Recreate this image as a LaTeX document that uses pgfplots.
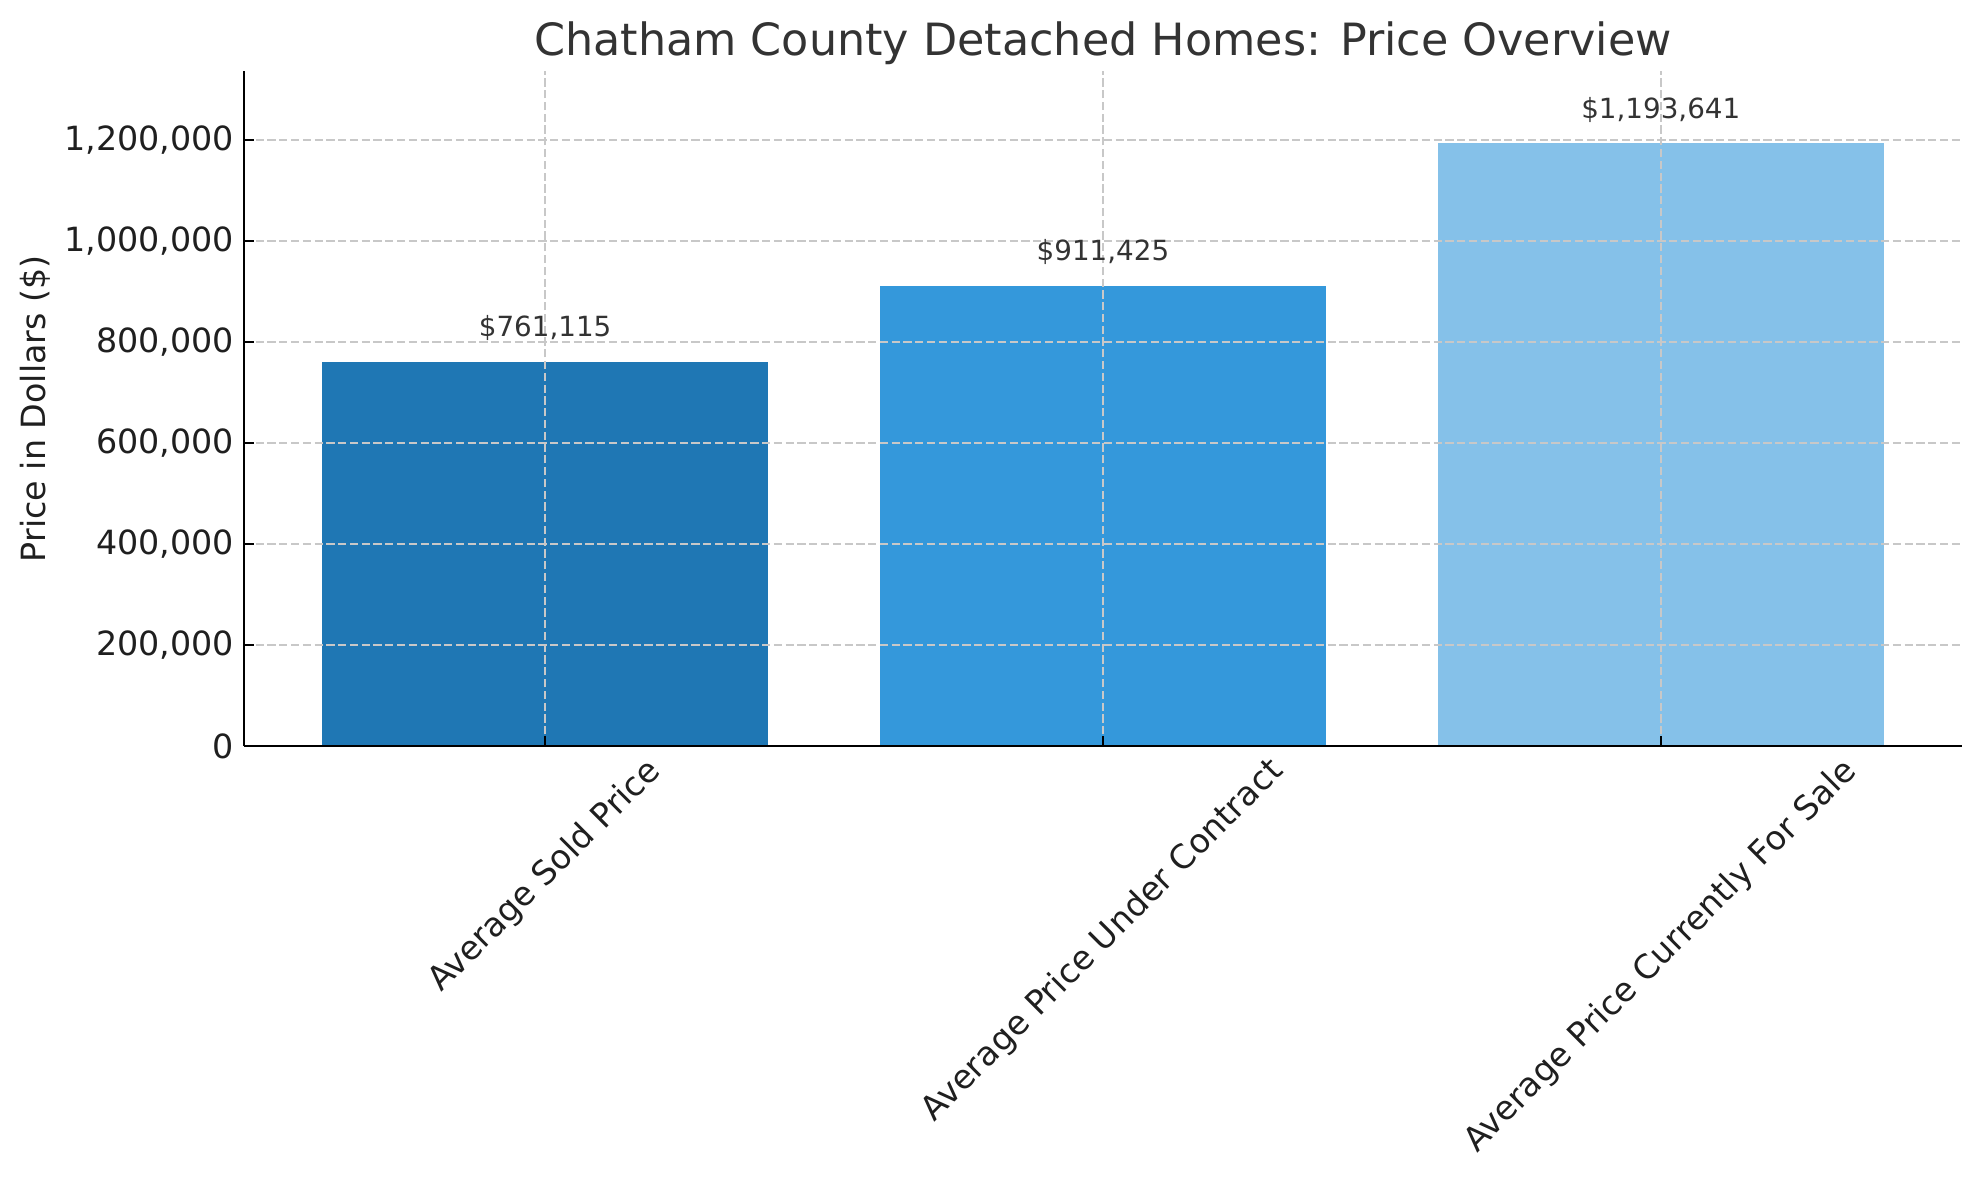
\documentclass[border=0pt]{standalone}
\usepackage{pgfplots}
\pgfplotsset{compat=1.18}
\usepackage{fontspec}
\setmainfont{DejaVu Sans}
\definecolor{c1}{HTML}{1F77B4}
\definecolor{c2}{HTML}{3498DB}
\definecolor{c3}{HTML}{85C1E9}
\definecolor{titlegray}{HTML}{333333}
\definecolor{gridgray}{HTML}{C8C8C8}
\begin{document}
\begin{tikzpicture}
\useasboundingbox (-87.8pt,-156.2pt) rectangle (624.6pt,268.6pt);
\begin{axis}[
  at={(0,0)}, anchor=south west,
  scale only axis, width=618.5pt, height=243pt,
  xmin=-0.54, xmax=2.54, ymin=0, ymax=1336878,
  ybar, bar width=0.8, bar shift=0pt,
  axis x line*=bottom, axis y line*=left,
  axis line style={black, line width=0.9pt},
  tick align=inside, xtick align=inside, ytick align=inside, major tick length=3.5pt,
  tick style={black, line width=0.8pt},
  xtick={0,1,2},
  xticklabels={\rotatebox{45}{Average Sold Price},\rotatebox{45}{Average Price Under Contract},\rotatebox{45}{Average Price Currently For Sale}},
  xticklabel style={anchor=north, yshift=0.4pt, font=\fontsize{12}{14.4}\selectfont, text=black!88},
  ytick={0,200000,400000,600000,800000,1000000,1200000},
  scaled y ticks=false,
  yticklabel style={/pgf/number format/fixed, /pgf/number format/1000 sep={,}, /pgf/number format/assume math mode=true, font=\fontsize{12}{14.4}\selectfont, text=black!88},
  ylabel={Price in Dollars (\$)},
  ylabel style={at={(axis description cs:-0.1216,0.5)}, anchor=center, font=\fontsize{12}{14.4}\selectfont, text=black!88},
  title={Chatham County Detached Homes: Price Overview},
  every axis title shift=0pt,
  title style={at={(axis description cs:0.5,1)}, anchor=base, yshift=5.6pt, inner sep=0pt, font=\fontsize{16}{19.2}\selectfont, text=titlegray},
  xmajorgrids, ymajorgrids,
  grid style={gridgray, line width=0.6pt, dash pattern=on 2.96pt off 1.28pt},
  axis on top,
  point meta=explicit symbolic,
  nodes near coords,
  every node near coord/.style={anchor=base, yshift=9pt, inner sep=0pt, font=\fontsize{10}{12}\selectfont, text=titlegray},
]
\addplot[fill=c1, draw=none] coordinates {(0,761115) [\$761,115]};
\addplot[fill=c2, draw=none] coordinates {(1,911425) [\$911,425]};
\addplot[fill=c3, draw=none] coordinates {(2,1193641) [\$1,193,641]};
\end{axis}
\end{tikzpicture}
\end{document}
